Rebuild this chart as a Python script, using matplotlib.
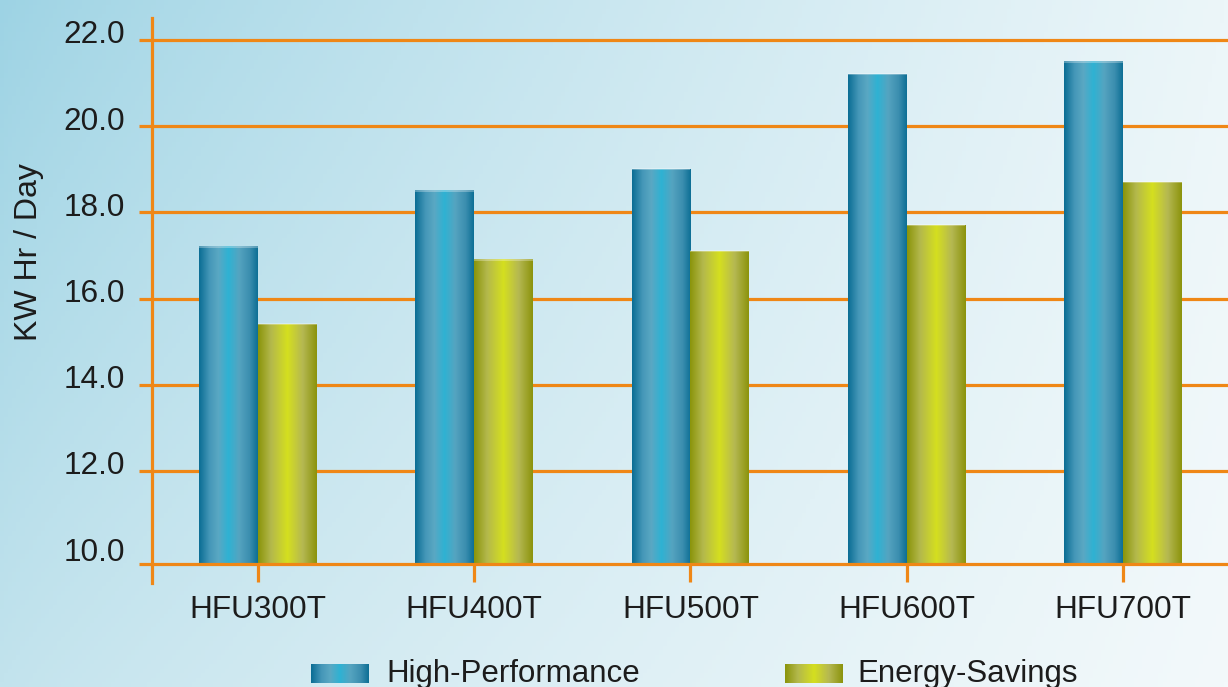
import numpy as np
import matplotlib
matplotlib.use("Agg")
import matplotlib.pyplot as plt
import matplotlib.transforms as mtransforms
from matplotlib.colors import LinearSegmentedColormap, to_rgb

# data
MODELS = ["HFU300T", "HFU400T", "HFU500T", "HFU600T", "HFU700T"]
HIGH_PERFORMANCE = [17.2, 18.5, 19.0, 21.2, 21.5]
ENERGY_SAVINGS = [15.4, 16.9, 17.1, 17.7, 18.7]
Y_TICKS = [10.0, 12.0, 14.0, 16.0, 18.0, 20.0, 22.0]
SERIES_NAMES = ["High-Performance", "Energy-Savings"]

ORANGE = "#EF8716"
TEXT = "#1c1c1c"
FONT = "Liberation Sans"

# cylinder-like shading for the bars
BLUE_CMAP = LinearSegmentedColormap.from_list("blue_cyl", [
    (0.0, "#0a6d94"), (0.18, "#4597b8"), (0.33, "#5aa8c3"),
    (0.5, "#2eb2d3"), (0.68, "#55a4c0"), (0.86, "#3b8eaf"), (1.0, "#0d6f95")])
GREEN_CMAP = LinearSegmentedColormap.from_list("green_cyl", [
    (0.0, "#8a940a"), (0.22, "#b3b84c"), (0.5, "#d5df1f"),
    (0.76, "#b5b852"), (1.0, "#8b930c")])

W, H = 1228, 687
fig = plt.figure(figsize=(W / 100, H / 100), dpi=100)

# background gradient: light blue on the left fading to near white on the right
bg = fig.add_axes([0, 0, 1, 1], zorder=-1)
bg.axis("off")
tx = np.linspace(0, 1, 300) ** 0.8
ty = np.linspace(0, 1, 150)[:, None]
lt, lb = np.array(to_rgb("#9dd3e4")), np.array(to_rgb("#c2e3ed"))
rt, rb = np.array(to_rgb("#ecf6f9")), np.array(to_rgb("#f3f9fb"))
left = lt * (1 - ty[..., None]) + lb * ty[..., None]
right = rt * (1 - ty[..., None]) + rb * ty[..., None]
img = left * (1 - tx[None, :, None]) + right * tx[None, :, None]
bg.imshow(img, aspect="auto", extent=[0, 1, 0, 1], origin="upper")
bg.set_xlim(0, 1)
bg.set_ylim(0, 1)

ax = fig.add_axes([152 / W, 1 - 564 / H, 1076 / W, (564 - 18) / H])
ax.patch.set_alpha(0)
for s in ax.spines.values():
    s.set_visible(False)

x = np.arange(len(MODELS))
bar_w = 0.272
ax.set_xlim(-0.49, 4.486)
ax.set_ylim(9.84, 22.51)

# grid lines (extend a bit left of the y axis, like tick marks)
ax.hlines(Y_TICKS[1:], -0.012, 1, transform=ax.get_yaxis_transform(),
          color=ORANGE, linewidth=2.3, clip_on=False, zorder=1)
ax.hlines([ax.get_ylim()[0]], -0.012, 1, transform=ax.get_yaxis_transform(),
          color=ORANGE, linewidth=2.3, clip_on=False, zorder=4)
ax.plot([0, 0], [-0.034, 1], transform=ax.transAxes, color=ORANGE,
        linewidth=2.3, clip_on=False, zorder=4)

# bars, filled with gradient images
grad = np.linspace(0, 1, 256)[None, :]
for vals, offset, cmap in [(HIGH_PERFORMANCE, -bar_w, BLUE_CMAP),
                           (ENERGY_SAVINGS, 0.0, GREEN_CMAP)]:
    bars = ax.bar(x + offset, np.array(vals) - 9.84, bottom=9.84, width=bar_w,
                  align="edge", color="none", zorder=2)
    for b in bars:
        x0, y0, bw, bh = b.get_x(), b.get_y(), b.get_width(), b.get_height()
        ax.imshow(grad, cmap=cmap, aspect="auto", zorder=2,
                  extent=[x0, x0 + bw, y0, y0 + bh])
        ax.hlines(y0 + bh, x0, x0 + bw, color="white", alpha=0.35,
                  linewidth=1.2, zorder=3)
ax.set_xlim(-0.49, 4.486)
ax.set_ylim(9.84, 22.51)

ax.set_xticks(x)
ax.set_xticklabels(MODELS, fontsize=22.7, color=TEXT, family=FONT)
ax.tick_params(axis="x", direction="out", length=13, width=2.3,
               color=ORANGE, pad=9)

ax.set_yticks(Y_TICKS)
ax.set_yticklabels([f"{v:.1f}" for v in Y_TICKS], fontsize=22.7,
                   color=TEXT, family=FONT)
ax.tick_params(axis="y", length=0, pad=19.3)
shift = mtransforms.ScaledTranslation(0, 8 / 100, fig.dpi_scale_trans)
for lab in ax.get_yticklabels():
    lab.set_transform(lab.get_transform() + shift)

ax.set_ylabel("KW Hr / Day", fontsize=23, color=TEXT, family=FONT)
ax.yaxis.set_label_coords(-0.1, 0.571)

# legend drawn by hand below the axis
for (x0, x1, tx0), cmap, name in zip([(311, 369, 386), (785, 842, 857)],
                                     [BLUE_CMAP, GREEN_CMAP], SERIES_NAMES):
    lax = fig.add_axes([x0 / W, 1 - 683 / H, (x1 - x0) / W, 19 / H])
    lax.imshow(grad, cmap=cmap, aspect="auto")
    lax.axis("off")
    fig.text(tx0 / W, 1 - 682 / H, name, fontsize=22.5, color=TEXT,
             family=FONT, va="baseline", ha="left")

fig.savefig("out.png", dpi=100)
